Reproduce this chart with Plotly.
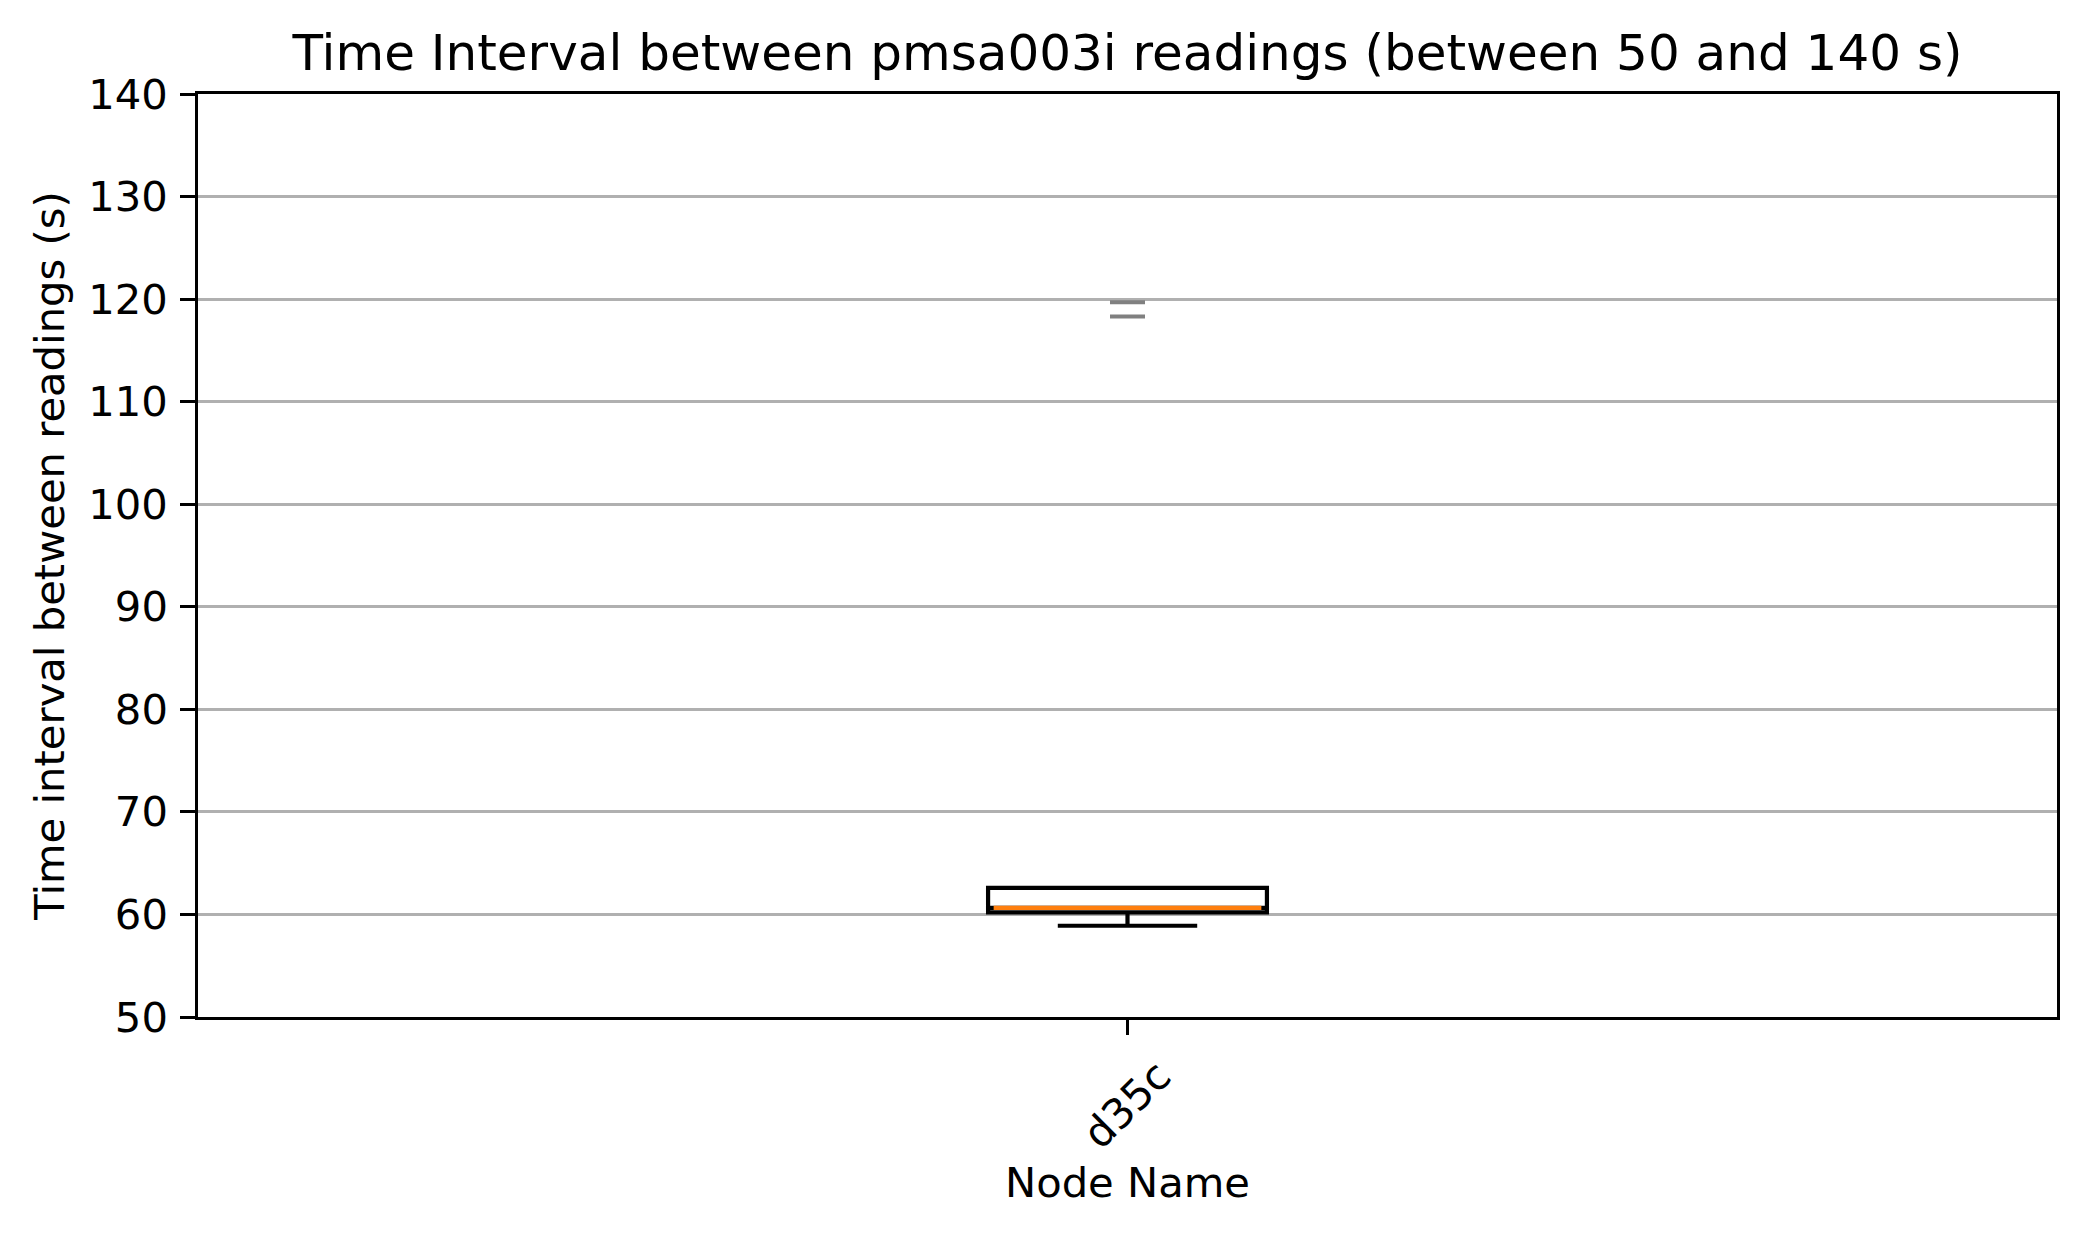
import plotly.graph_objects as go

# Data
node_names = ["d35c"]
q1_vals = [60.2]
median_vals = [60.65]
q3_vals = [62.6]
lower_whisker = [58.9]
upper_whisker = [62.6]
outlier_vals = [119.7, 118.3]

y_ticks = [50, 60, 70, 80, 90, 100, 110, 120, 130, 140]

FONT = "DejaVu Sans"
BOX_POS = [1]

fig = go.Figure()

# Main box (black outline, white fill)
fig.add_trace(go.Box(
    x=BOX_POS,
    q1=q1_vals, median=median_vals, q3=q3_vals,
    lowerfence=lower_whisker, upperfence=upper_whisker,
    width=0.15,
    whiskerwidth=0.5,
    fillcolor="white",
    line=dict(color="black", width=4.2),
    boxpoints=False,
    hoverinfo="skip",
    showlegend=False,
))

# Orange median line (zero-height box at the median)
fig.add_trace(go.Box(
    x=BOX_POS,
    q1=median_vals, median=median_vals, q3=median_vals,
    lowerfence=median_vals, upperfence=median_vals,
    width=0.15 - 0.006,
    whiskerwidth=0,
    fillcolor="rgba(0,0,0,0)",
    line=dict(color="#ff7f0e", width=4.2),
    boxpoints=False,
    hoverinfo="skip",
    showlegend=False,
))

# Outliers
fig.add_trace(go.Scatter(
    x=BOX_POS * len(outlier_vals),
    y=outlier_vals,
    mode="markers",
    marker=dict(symbol="line-ew", size=25, color="gray",
                line=dict(color="gray", width=4)),
    hoverinfo="skip",
    showlegend=False,
))

# page body adds an 8px offset, so the figure is 8px smaller
fig.update_layout(
    width=2079,
    height=1228,
    paper_bgcolor="white",
    plot_bgcolor="white",
    boxmode="overlay",
    margin=dict(l=190, r=30, t=86, b=219),
    font=dict(family=FONT, size=41.7, color="black"),
    title=dict(
        text="Time Interval between pmsa003i readings (between 50 and 140 s)",
        font=dict(family=FONT, size=50, color="black"),
        x=0.5, xref="paper", xanchor="center",
        y=1 - 44 / 1228, yref="container", yanchor="middle",
    ),
)

fig.update_xaxes(
    range=[0.5, 1.5],
    tickvals=BOX_POS,
    ticktext=node_names,
    tickangle=-45,
    ticklabelshift=31,
    showgrid=False,
    zeroline=False,
    showline=True, linecolor="black", linewidth=3.3, mirror=True,
    ticks="outside", ticklen=14.6, tickwidth=3.3, tickcolor="black",
    title=dict(text="Node Name", font=dict(family=FONT, size=41.7), standoff=10),
)

fig.update_yaxes(
    range=[50, 140],
    tickvals=y_ticks,
    ticklabelstandoff=4,
    showgrid=True, gridcolor="#b0b0b0", gridwidth=3.3,
    zeroline=False,
    showline=True, linecolor="black", linewidth=3.3, mirror=True,
    ticks="outside", ticklen=14.6, tickwidth=3.3, tickcolor="black",
    title=dict(text="Time interval between readings (s)", font=dict(family=FONT, size=41.7), standoff=11),
)

fig.write_html("out.html")
